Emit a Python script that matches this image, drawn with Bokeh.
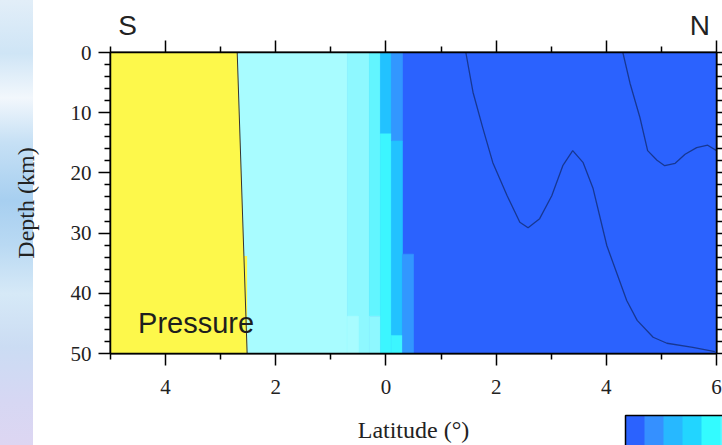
from bokeh.plotting import figure
from bokeh.models import (Range1d, LinearAxis, FixedTicker, Label, ColorBar,
                          LinearColorMapper)
from bokeh.embed import file_html
from bokeh.resources import INLINE

# ---------------- data ----------------
lat_ticks = [-4, -2, 0, 2, 4, 6]
lat_tick_labels = ["4", "2", "0", "2", "4", "6"]
lat_minor_ticks = [-5, -3, -1, 1, 3, 5]
depth_ticks = [0, 10, 20, 30, 40, 50]
depth_minor_ticks = [2, 4, 6, 8, 12, 14, 16, 18, 22, 24, 26, 28, 32, 34, 36, 38, 42, 44, 46, 48]
hemisphere_pos = [-4.69, 5.70]
hemisphere_labels = ["S", "N"]

palette = ["#2b62fe", "#3297ff", "#22c2ff", "#2ee4ff", "#3cf6ff", "#62f5ff", "#8ef8ff", "#a8fcff"]
bar_palette = ["#2b62fe", "#3590ff", "#27b8ff", "#22d5ff", "#33fbff",
               "#62f5ff", "#8ef8ff", "#a8fcff", "#fdf84b", "#ffd040"]
yellow = "#fdf84b"

# field cells: lat range, depth range, level
cell_lat0 = [-5.0, -5.0, -0.7, -0.7, -0.3, -0.3, -0.1, -0.1, 0.1, 0.1, 0.1, 0.3]
cell_lat1 = [6.0, -0.7, -0.3, -0.5, -0.1, -0.1, 0.1, 0.1, 0.3, 0.3, 0.3, 0.5]
cell_top = [0.0, 0.0, 0.0, 43.8, 0.0, 43.8, 0.0, 13.5, 0.0, 14.7, 47.0, 33.5]
cell_bot = [50.0, 50.0, 50.0, 50.0, 43.8, 50.0, 13.5, 50.0, 14.7, 47.0, 50.0, 50.0]
cell_level = [0, 7, 6, 7, 5, 6, 2, 4, 1, 2, 4, 1]

# high-pressure (yellow) region
yellow_lat = [-5.0, -2.70, -2.578, -2.52, -2.52, -5.0]
yellow_depth = [0.0, 0.0, 33.8, 33.8, 50.0, 50.0]
bound_lat = [-2.70, -2.52]
bound_depth = [0.0, 50.0]

# contour lines
c1_lat = [1.45, 1.58, 1.76, 1.94, 2.20, 2.43, 2.58, 2.79, 3.01, 3.21, 3.39, 3.58, 3.76,
          4.01, 4.37, 4.56, 4.85, 5.10, 5.57, 5.97]
c1_depth = [0.0, 6.6, 12.6, 18.3, 23.8, 28.2, 29.1, 27.6, 23.8, 18.8, 16.3, 18.3, 22.6,
            32.1, 41.2, 44.5, 47.3, 48.3, 49.0, 49.7]
c2_lat = [4.30, 4.43, 4.61, 4.75, 4.92, 5.06, 5.25, 5.43, 5.64, 5.84, 6.0]
c2_depth = [0.0, 5.1, 10.8, 16.3, 17.9, 18.8, 18.4, 16.9, 15.8, 15.4, 16.3]

# ---------------- figure ----------------
p = figure(width=722, height=445, x_range=Range1d(-5, 6), y_range=Range1d(50, 0),
           output_backend="svg", toolbar_location=None,
           min_border_left=110, min_border_right=0, min_border_top=52, min_border_bottom=92,
           x_axis_label="Latitude (°)", y_axis_label="Depth (km)")
p.border_fill_color = None
p.styles = {
    "background-color": "white",
    "background-image": "linear-gradient(to bottom, #e2eef8 0%, #cfe5f6 12%, #f2f7fc 22%, "
                        "#c6e0f5 32%, #a7cff0 45%, #b9d9f3 55%, #d6e9f7 66%, #cbdcf3 78%, "
                        "#d6d7f3 90%, #ddd6f2 100%)",
    "background-size": "33px 100%",
    "background-repeat": "no-repeat",
}
p.grid.visible = False
p.outline_line_color = "black"
p.outline_line_width = 2

colors = [palette[l] for l in cell_level]
p.quad(left=cell_lat0, right=cell_lat1, top=cell_top, bottom=cell_bot,
       fill_color=colors, line_color=colors, line_width=0.6)
p.patch(yellow_lat, yellow_depth, fill_color=yellow, line_color=None)
p.line(bound_lat, bound_depth, line_color="#333333", line_width=1)
p.line(c1_lat, c1_depth, line_color="#14307f", line_width=1.3, line_alpha=0.85)
p.line(c2_lat, c2_depth, line_color="#14307f", line_width=1.3, line_alpha=0.85)

# axes
serif = "Liberation Serif"
xa = p.xaxis[0]
xa.ticker = FixedTicker(ticks=lat_ticks, minor_ticks=lat_minor_ticks)
xa.major_label_overrides = dict(zip(lat_ticks, lat_tick_labels))
ya = p.yaxis[0]
ya.ticker = FixedTicker(ticks=depth_ticks, minor_ticks=depth_minor_ticks)
for ax in (xa, ya):
    ax.axis_line_color = "black"
    ax.axis_line_width = 1.5
    ax.major_tick_line_color = "black"
    ax.major_tick_line_width = 1.5
    ax.minor_tick_line_color = "black"
    ax.minor_tick_line_width = 1.5
    ax.major_tick_in = 0
    ax.minor_tick_in = 0
    ax.major_tick_out = 12
    ax.minor_tick_out = 6
    ax.major_label_text_font = serif
    ax.major_label_text_font_size = "21px"
    ax.major_label_text_color = "#222222"
    ax.axis_label_text_font = serif
    ax.axis_label_text_font_size = "24px"
    ax.axis_label_text_font_style = "normal"
    ax.axis_label_text_color = "#222222"
xa.major_label_standoff = 14
xa.axis_label_standoff = 20
ya.major_label_standoff = 7
ya.axis_label_standoff = 29

top = LinearAxis(ticker=FixedTicker(ticks=lat_ticks, minor_ticks=lat_minor_ticks),
                 major_label_text_font_size="1px", major_label_text_color=None,
                 major_label_standoff=0,
                 major_tick_in=0, minor_tick_in=0, major_tick_out=12, minor_tick_out=6,
                 axis_line_width=1.5, major_tick_line_width=1.5, minor_tick_line_width=1.5)
p.add_layout(top, "above")
hemi = LinearAxis(ticker=FixedTicker(ticks=hemisphere_pos, minor_ticks=[]),
                  major_label_overrides=dict(zip(hemisphere_pos, hemisphere_labels)),
                  major_label_text_font="Liberation Sans", major_label_text_font_size="28px",
                  major_label_text_color="#222222", major_label_standoff=0,
                  axis_line_color=None, major_tick_line_color=None, minor_tick_line_color=None,
                  major_tick_in=0, major_tick_out=0, minor_tick_in=0, minor_tick_out=0)
p.add_layout(hemi, "above")
right = LinearAxis(ticker=FixedTicker(ticks=depth_ticks, minor_ticks=depth_minor_ticks),
                   major_label_text_font_size="1px", major_label_text_color=None,
                   major_label_standoff=0,
                   major_tick_in=0, minor_tick_in=0, major_tick_out=6, minor_tick_out=6,
                   axis_line_width=1.5, major_tick_line_width=1.5, minor_tick_line_width=1.5)
p.add_layout(right, "right")

# in-plot label
p.add_layout(Label(x=-4.50, y=45.0, text="Pressure", text_font="Liberation Sans",
                   text_font_size="29px", text_align="left", text_baseline="alphabetic",
                   text_color="#1e1e1e"))

# partial colour scale at bottom right
cmap = LinearColorMapper(palette=bar_palette, low=0, high=len(bar_palette))
cb = ColorBar(color_mapper=cmap, orientation="horizontal", width=19 * len(bar_palette), height=40,
              padding=0, margin=0, location=(515, -102), ticker=FixedTicker(ticks=[]),
              major_label_text_font_size="0px", major_tick_line_color=None,
              minor_tick_line_color=None, label_standoff=0,
              bar_line_color="black", bar_line_width=1.5,
              background_fill_color=None, border_line_color=None)
p.add_layout(cb, "center")

open("out.html", "w").write(file_html(p, INLINE))
